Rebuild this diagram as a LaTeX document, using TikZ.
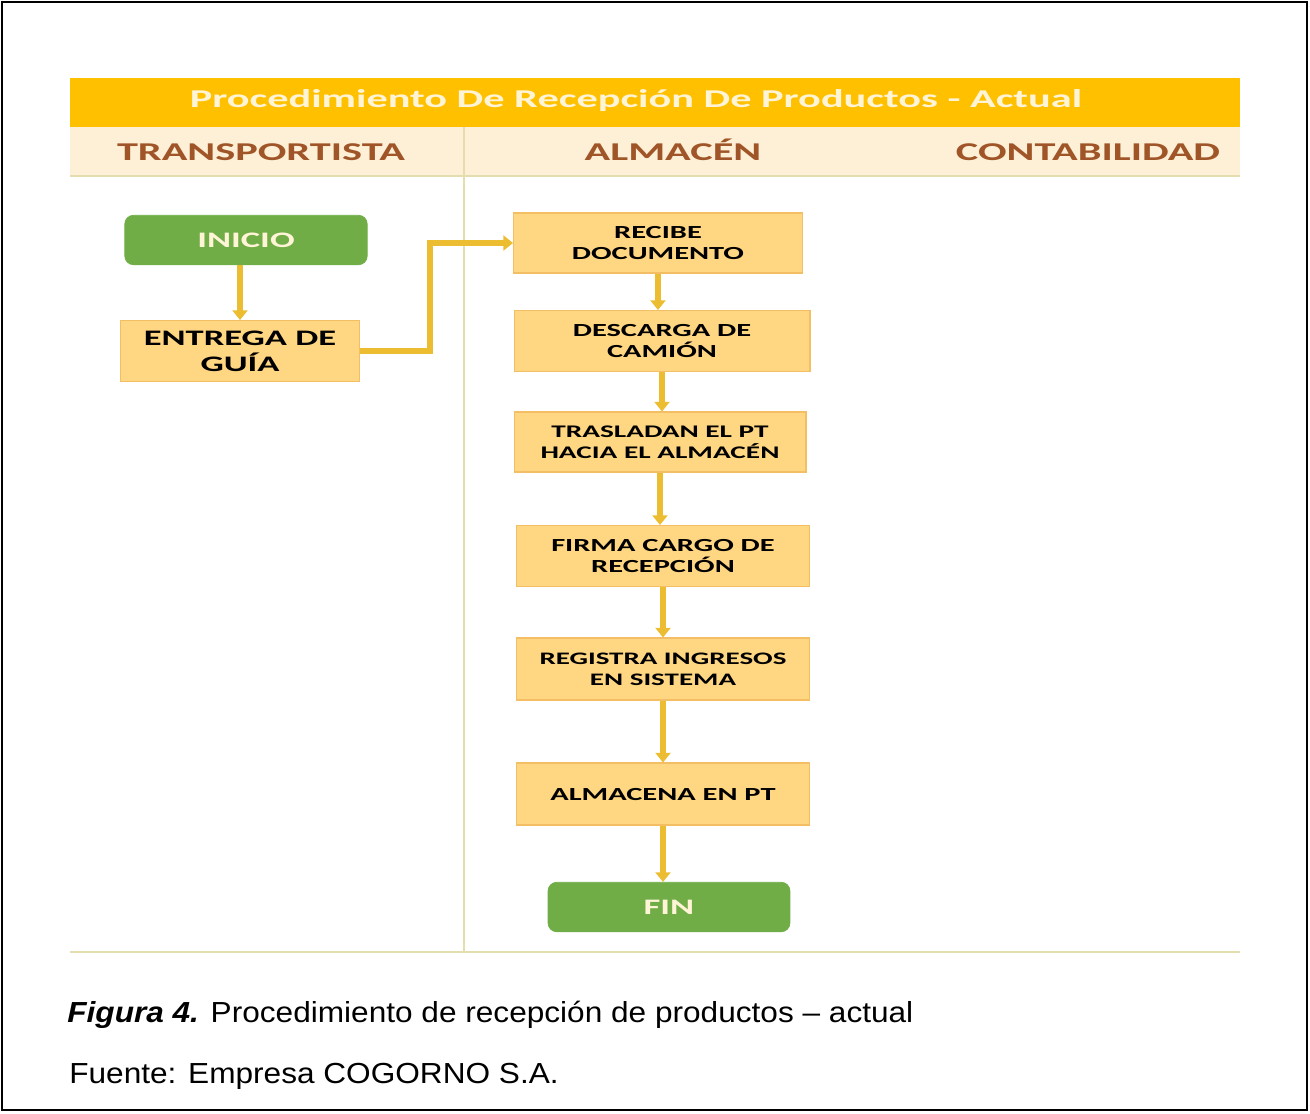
\documentclass[tikz,border=0pt]{standalone}
\usepackage{fontspec}
\usepackage{tikz}
\usetikzlibrary{arrows.meta}

\setmainfont{Liberation Sans}
\newfontfamily\diagfont[FakeStretch=1.65]{Carlito}
\newfontfamily\capfont[FakeStretch=1.09]{Liberation Sans}

\definecolor{titulo}{RGB}{255,192,0}
\definecolor{crema}{RGB}{254,240,214}
\definecolor{marron}{RGB}{160,85,40}
\definecolor{linea}{RGB}{228,222,175}
\definecolor{caja}{RGB}{255,214,130}
\definecolor{borde}{RGB}{243,190,100}
\definecolor{verde}{RGB}{112,173,71}
\definecolor{flecha}{RGB}{236,189,48}
\definecolor{claro}{RGB}{255,244,214}

\begin{document}
\begin{tikzpicture}[x=0.02cm, y=-0.02cm,
    paso/.style={draw=borde, fill=caja, line width=0.6pt, align=center, inner sep=2pt,
        minimum width=5.86cm, minimum height=1.22cm,
        font=\diagfont\bfseries\fontsize{10.5}{12.5}\selectfont},
    extremo/.style={draw=verde, fill=verde, rounded corners=5pt, text=claro, inner sep=2pt,
        minimum width=4.85cm, minimum height=0.99cm,
        font=\diagfont\bfseries\fontsize{12.6}{15}\selectfont},
    carril/.style={anchor=base, text=marron, font=\diagfont\bfseries\fontsize{14.6}{17}\selectfont},
    flujo/.style={flecha, line width=3pt, -{Triangle[width=8.5pt,length=5.5pt]}},
    pie/.style={anchor=base west, inner sep=0pt, font=\capfont\fontsize{16.5}{19}\selectfont}]
    \useasboundingbox (0,0) rectangle (1310,1113);
    \draw[line width=1.6pt] (2,2) rectangle (1307,1110);

    % cabecera y carriles
    \fill[titulo] (70,78) rectangle (1240,127);
    \fill[crema] (70,127) rectangle (1240,176);
    \draw[linea, line width=0.8pt] (70,176) -- (1240,176);
    \draw[linea, line width=0.8pt] (464,127) -- (464,952);
    \draw[linea, line width=0.8pt] (70,952) -- (1240,952);
    \node[text=claro, font=\diagfont\bfseries\fontsize{14.6}{17}\selectfont] (titulo) at (636,101) {Procedimiento De Recepción De Productos - Actual};
    \node[carril] (transp) at (261,160) {TRANSPORTISTA};
    \node[carril] (almacen) at (673,160) {ALMACÉN};
    \node[carril] (conta) at (1088,160) {CONTABILIDAD};

    % transportista
    \node[extremo] (inicio) at (246,240) {INICIO};
    \node[paso, minimum width=4.78cm, font=\diagfont\bfseries\fontsize{12.6}{14.7}\selectfont] (entrega) at (240,351) {ENTREGA DE\\GUÍA};

    % almacen
    \node[paso, minimum width=5.78cm, minimum height=1.2cm] (recibe) at (658,243) {RECIBE\\DOCUMENTO};
    \node[paso, minimum width=5.92cm] (descarga) at (662,341) {DESCARGA DE\\CAMIÓN};
    \node[paso, minimum width=5.84cm, minimum height=1.2cm, font=\diagfont\bfseries\fontsize{10.1}{12}\selectfont] (traslada) at (660,442) {TRASLADAN EL PT\\HACIA EL ALMACÉN};
    \node[paso] (firma) at (663,556) {FIRMA CARGO DE\\RECEPCIÓN};
    \node[paso, minimum height=1.24cm, font=\diagfont\bfseries\fontsize{10}{12}\selectfont] (registra) at (663,669) {REGISTRA INGRESOS\\EN SISTEMA};
    \node[paso, minimum height=1.24cm] (guarda) at (663,794) {ALMACENA EN PT};
    \node[extremo, minimum width=4.84cm] (fin) at (669,907) {FIN};

    % flechas
    \coordinate (codo) at (430,300);
    \draw[flujo] (inicio.south -| entrega.north) -- (entrega.north);
    \draw[flujo] (entrega.east) -| (codo) |- (recibe.west);
    \draw[flujo] (recibe.south) -- (recibe.south |- descarga.north);
    \draw[flujo] (descarga.south) -- (descarga.south |- traslada.north);
    \draw[flujo] (traslada.south) -- (traslada.south |- firma.north);
    \draw[flujo] (firma.south) -- (firma.south |- registra.north);
    \draw[flujo] (registra.south) -- (registra.south |- guarda.north);
    \draw[flujo] (guarda.south) -- (guarda.south |- fin.north);

    % leyenda
    \node[pie] (figura) at (67,1022) {{\bfseries\itshape Figura 4.} Procedimiento de recepción de productos – actual};
    \node[pie] (fuente) at (69,1083) {Fuente: Empresa COGORNO S.A.};
\end{tikzpicture}
\end{document}
